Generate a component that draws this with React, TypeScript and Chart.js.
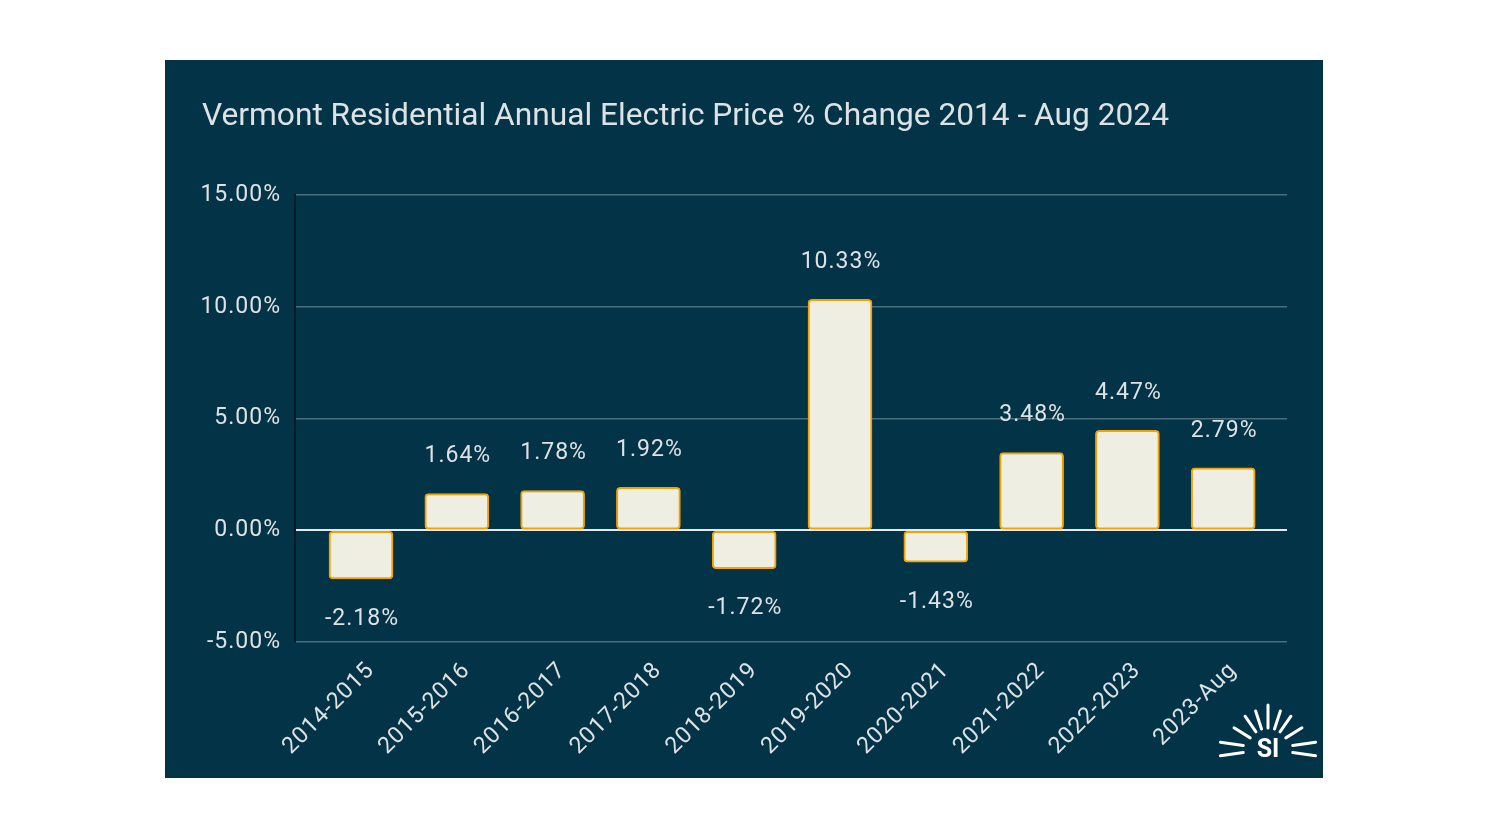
import React, { useEffect, useRef } from "react";
import { Chart, registerables } from "chart.js";

Chart.register(...registerables);

const titleText = "Vermont Residential Annual Electric Price % Change 2014 - Aug 2024";
const categories = [
  "2014-2015",
  "2015-2016",
  "2016-2017",
  "2017-2018",
  "2018-2019",
  "2019-2020",
  "2020-2021",
  "2021-2022",
  "2022-2023",
  "2023-Aug",
];
const changes = [-2.18, 1.64, 1.78, 1.92, -1.72, 10.33, -1.43, 3.48, 4.47, 2.79];
const yTicks = [-5, 0, 5, 10, 15];

const PANEL = "#033347";
const TEXT = "#dde2e5";
const FONT = "Roboto, 'Liberation Sans', sans-serif";

const spacing = {
  id: "spacing",
  beforeUpdate(chart: any) {
    chart.ctx.letterSpacing = "1px";
  },
  beforeDraw(chart: any) {
    chart.ctx.letterSpacing = "1px";
  },
};

const titleDraw = {
  id: "titleDraw",
  beforeDraw(chart: any) {
    const ctx = chart.ctx;
    ctx.save();
    ctx.letterSpacing = "0px";
    ctx.fillStyle = TEXT;
    ctx.font = `31.7px ${FONT}`;
    ctx.textAlign = "left";
    ctx.textBaseline = "alphabetic";
    ctx.fillText(titleText, 37, 65);
    ctx.restore();
  },
};

const valueLabels = {
  id: "valueLabels",
  afterDatasetsDraw(chart: any) {
    const ctx = chart.ctx;
    const meta = chart.getDatasetMeta(0);
    ctx.save();
    ctx.letterSpacing = "1px";
    ctx.fillStyle = TEXT;
    ctx.font = `23px ${FONT}`;
    ctx.textAlign = "center";
    ctx.textBaseline = "middle";
    meta.data.forEach((bar: any, i: number) => {
      const v = changes[i];
      const y = v >= 0 ? bar.y - 37 : bar.y + 40;
      ctx.fillText(v.toFixed(2) + "%", bar.x + 1, y);
    });
    ctx.restore();
  },
};

const logo = {
  id: "logo",
  afterDraw(chart: any) {
    const ctx = chart.ctx;
    const cx = chart.width - 55;
    const cy = chart.height - 29;
    ctx.save();
    ctx.letterSpacing = "0px";
    ctx.strokeStyle = "#ffffff";
    ctx.lineWidth = 3;
    ctx.lineCap = "round";
    const angles = [-8, 8, 32, 55, 72, 90, 108, 125, 148, 172, 188];
    angles.forEach((a) => {
      const r = (a * Math.PI) / 180;
      const flat = Math.abs(Math.sin(r)) < 0.3;
      const inner = flat ? 25 : 21;
      const outer = a === 90 ? 44 : flat ? 48 : 40;
      ctx.beginPath();
      ctx.moveTo(cx + Math.cos(r) * inner, cy - Math.sin(r) * inner);
      ctx.lineTo(cx + Math.cos(r) * outer, cy - Math.sin(r) * outer);
      ctx.stroke();
    });
    ctx.fillStyle = "#ffffff";
    ctx.font = `bold 25px ${FONT}`;
    ctx.textAlign = "center";
    ctx.textBaseline = "middle";
    ctx.fillText("SI", cx, cy + 2);
    ctx.restore();
  },
};

export default function App() {
  const ref = useRef<HTMLCanvasElement | null>(null);

  useEffect(() => {
    if (!ref.current) return;
    const chart = new Chart(ref.current, {
      type: "bar",
      data: {
        datasets: [
          {
            data: categories.map((c, i) => ({ x: i, y: changes[i] })) as any,
            backgroundColor: "#eeefe2",
            borderColor: "#f5a200",
            borderWidth: 2,
            borderRadius: 4,
            borderSkipped: false,
            barThickness: 64,
          },
        ],
      },
      plugins: [spacing, titleDraw, valueLabels, logo],
      options: {
        animation: false,
        responsive: false,
        maintainAspectRatio: false,
        layout: { padding: { left: 37, right: 36, top: 135, bottom: 0 } },
        plugins: {
          legend: { display: false },
          tooltip: { enabled: false },
          title: { display: false },
        },
        scales: {
          x: {
            type: "linear",
            offset: false,
            min: -0.689,
            max: 9.666,
            afterBuildTicks: (scale: any) => {
              scale.ticks = categories.map((_, i) => ({ value: i }));
            },
            afterFit: (scale: any) => {
              scale.height = 136;
            },
            grid: { display: false, drawTicks: false },
            border: { display: false },
            ticks: {
              autoSkip: false,
              minRotation: 45,
              maxRotation: 45,
              padding: 15,
              labelOffset: 10,
              color: TEXT,
              font: { family: FONT, size: 23 },
              callback: (v: any) => categories[v as number],
            },
          },
          y: {
            min: -5,
            max: 15,
            afterBuildTicks: (scale: any) => {
              scale.ticks = yTicks.map((v) => ({ value: v }));
            },
            afterFit: (scale: any) => {
              scale.width = 93;
            },
            border: { display: true, color: "#0a1c24", width: 2 },
            grid: {
              drawTicks: false,
              color: (c: any) => (c.tick && c.tick.value === 0 ? "#e6eaec" : "#4b6e7d"),
              lineWidth: (c: any) => (c.tick && c.tick.value === 0 ? 2 : 1.5),
            },
            ticks: {
              padding: 14,
              color: TEXT,
              font: { family: FONT, size: 23 },
              callback: (v: any) => Number(v).toFixed(2) + "%",
            },
          },
        },
      },
    });
    return () => chart.destroy();
  }, []);

  return (
    <div style={{ position: "fixed", inset: 0, background: "#ffffff" }}>
      <div
        style={{
          position: "absolute",
          left: 165,
          top: 60,
          width: 1158,
          height: 718,
          background: PANEL,
        }}
      >
        <canvas ref={ref} width={1158} height={718} style={{ display: "block" }} />
      </div>
    </div>
  );
}
